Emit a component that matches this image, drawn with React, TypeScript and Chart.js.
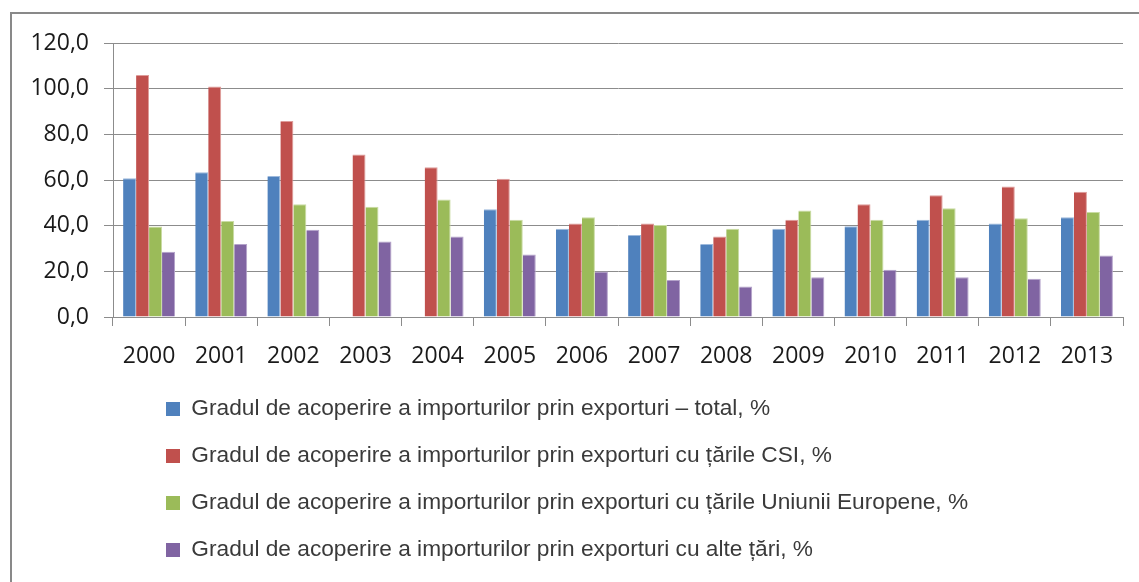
import React, { useEffect, useRef } from "react";
import { Chart, registerables } from "chart.js";

Chart.register(...registerables);

const categories = ["2000", "2001", "2002", "2003", "2004", "2005", "2006", "2007", "2008", "2009", "2010", "2011", "2012", "2013"];
const totalValues = [60.8, 63.4, 61.8, null, null, 47.2, 38.7, 35.9, 32.0, 38.7, 39.7, 42.6, 40.9, 43.7];
const csiValues = [106.0, 101.0, 85.8, 71.2, 65.6, 60.6, 40.9, 40.9, 35.3, 42.6, 49.4, 53.3, 57.1, 54.9];
const euValues = [39.6, 42.0, 49.4, 48.3, 51.5, 42.6, 43.7, 40.3, 38.7, 46.6, 42.6, 47.6, 43.2, 46.0];
const otherValues = [28.6, 32.0, 38.2, 33.1, 35.3, 27.4, 19.9, 16.2, 13.4, 17.4, 20.7, 17.4, 16.8, 26.9];

const seriesLabels = [
  "Gradul de acoperire a importurilor prin exporturi – total, %",
  "Gradul de acoperire a importurilor prin exporturi cu țările CSI, %",
  "Gradul de acoperire a importurilor prin exporturi cu țările Uniunii Europene, %",
  "Gradul de acoperire a importurilor prin exporturi cu alte țări, %",
];
const seriesColors = ["#4F81BD", "#C0504D", "#9BBB59", "#8064A2"];
const seriesEdges = ["#9DB9DC", "#DE9C9A", "#C9DCA3", "#B4A3CA"];

const yMin = 0;
const yMax = 120;
const yStep = 20;

const W = 1139;
const H = 582;

const LEGEND_FONT = 22.7;
const LEGEND_PAD = 47 - LEGEND_FONT;

const legendPlacer = {
  id: "legendPlacer",
  afterLayout(chart: any) {
    const lg = chart.legend;
    if (!lg) return;
    lg.left = 166 - LEGEND_PAD;
    lg.right = 1120;
    lg.top = 409 - LEGEND_PAD - LEGEND_FONT / 2;
    lg.bottom = 640;
  },
};

export default function App() {
  const ref = useRef<HTMLCanvasElement | null>(null);

  useEffect(() => {
    if (!ref.current) return;
    const valueSets = [totalValues, csiValues, euValues, otherValues];
    const chart = new Chart(ref.current, {
      type: "bar",
      data: {
        labels: categories,
        datasets: valueSets.map((vals, i) => ({
          label: seriesLabels[i],
          data: vals,
          backgroundColor: seriesColors[i],
          borderColor: seriesEdges[i],
          borderWidth: { top: 1, right: 1, left: 0, bottom: 0 },
          categoryPercentage: 0.72,
          barPercentage: 1.0,
        })),
      },
      options: {
        responsive: false,
        animation: false,
        layout: { padding: { left: 0, right: 16, top: 43, bottom: 215 } },
        plugins: {
          legend: {
            position: "chartArea",
            align: "start",
            labels: {
              boxWidth: 14,
              boxHeight: 14,
              padding: LEGEND_PAD,
              color: "#3a3a3a",
              font: { family: "'Liberation Sans', Arial, sans-serif", size: LEGEND_FONT },
              generateLabels: (c: any) =>
                c.data.datasets.map((ds: any, i: number) => ({
                  text: ds.label,
                  fillStyle: seriesColors[i],
                  strokeStyle: seriesColors[i],
                  lineWidth: 0,
                  hidden: false,
                  datasetIndex: i,
                  fontColor: "#3a3a3a",
                })),
            },
          },
          tooltip: { enabled: false },
          title: { display: false },
        },
        scales: {
          x: {
            offset: true,
            grid: {
              display: true,
              drawOnChartArea: false,
              drawTicks: true,
              tickLength: 9,
              offset: true,
              color: "#8C8C8C",
              lineWidth: 1,
            },
            border: { display: true, color: "#8C8C8C", width: 1 },
            ticks: {
              color: "#1a1a1a",
              padding: 17,
              font: { family: "'Open Sans', sans-serif", size: 23 },
              maxRotation: 0,
              autoSkip: false,
            },
            afterFit: (scale: any) => {
              scale.height = 50;
            },
          },
          y: {
            min: yMin,
            max: yMax,
            grid: {
              color: "#8C8C8C",
              lineWidth: 1,
              drawTicks: true,
              tickLength: 9,
            },
            border: { display: true, color: "#8C8C8C", width: 1 },
            ticks: {
              stepSize: yStep,
              color: "#1a1a1a",
              padding: 15,
              font: { family: "'Open Sans', sans-serif", size: 23 },
              callback: (v: any) => Number(v).toFixed(1).replace(".", ","),
            },
            afterFit: (scale: any) => {
              scale.width = 113;
            },
          },
        },
      },
      plugins: [legendPlacer],
    });
    return () => chart.destroy();
  }, []);

  return (
    <div style={{ position: "fixed", left: 0, top: 0, width: W, height: H, overflow: "hidden", background: "#fff" }}>
      <div
        style={{
          position: "absolute",
          left: 10,
          top: 12,
          width: W + 50,
          height: H + 50,
          borderLeft: "2px solid #898989",
          borderTop: "2px solid #898989",
          boxSizing: "border-box",
        }}
      />
      <canvas ref={ref} width={W} height={H} style={{ position: "absolute", left: 0, top: 0, width: W, height: H }} />
    </div>
  );
}
